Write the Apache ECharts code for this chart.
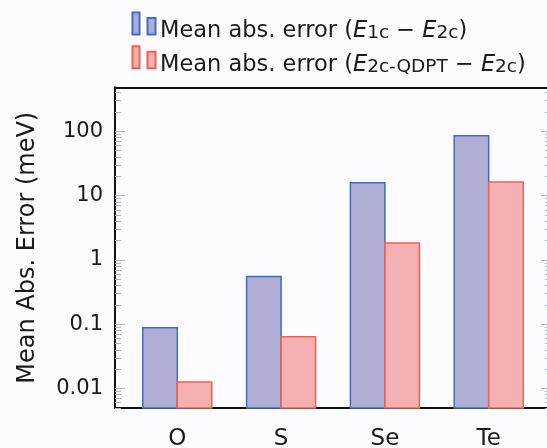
<!DOCTYPE html>
<html><head><meta charset="utf-8">
<script src="https://cdn.jsdelivr.net/npm/echarts@6/dist/echarts.min.js"></script>
<style>html,body{margin:0;padding:0;background:#fcfcfe}#c{width:547px;height:448px}</style>
</head><body><div id="c"></div>
<script>
const categories = ['O', 'S', 'Se', 'Te'];
const mae1c = [0.088, 0.55, 15.9, 85];
const maeQdpt = [0.0126, 0.064, 1.83, 16.3];
const yTickValues = [0.01, 0.1, 1, 10, 100];
const yTickLabels = ['0.01', '0.1', '1', '10', '100'];
const seriesNames = ['Mean abs. error (E1c − E2c)', 'Mean abs. error (E2c-QDPT − E2c)'];

const yMin = 0.00497, yMax = 480;
const minorTicks = [];
for (let k = -3; k <= 2; k++) for (let m = 2; m <= 9; m++) { const v = m * Math.pow(10, k); if (v > yMin && v < yMax) minorTicks.push(v); }

const FONT = 'DejaVu Sans';
const tickColor = '#a9b7c6';
function yAxisBase(pos, ticks, len, labels) {
  return {
    type: 'log', logBase: 10, min: yMin, max: yMax, position: pos,
    axisLine: { show: true, onZero: false, lineStyle: { color: '#111', width: 2 } },
    axisTick: { show: true, inside: true, length: len, customValues: ticks, lineStyle: { color: tickColor, width: 1 } },
    axisLabel: labels ? { show: true, customValues: yTickValues, margin: 12, fontSize: 21, fontFamily: FONT, color: '#1a1a1a',
      formatter: v => { const i = yTickValues.findIndex(t => Math.abs(Math.log10(t) - Math.log10(v)) < 1e-6); return i >= 0 ? yTickLabels[i] : ''; } } : { show: false },
    splitLine: { show: false }, minorTick: { show: false }
  };
}
const yAxes = [
  Object.assign(yAxisBase('left', yTickValues, 10, true), { name: 'Mean Abs. Error (meV)', nameLocation: 'middle', nameGap: 75,
    nameTextStyle: { fontSize: 24, fontFamily: FONT, color: '#1a1a1a' } }),
  yAxisBase('left', minorTicks, 6, false),
  yAxisBase('right', yTickValues, 10, false),
  yAxisBase('right', minorTicks, 6, false)
];
function xAxisBase(pos, labels) {
  return {
    type: 'value', min: -0.6, max: 3.6, position: pos,
    axisLine: { show: true, onZero: false, lineStyle: { color: '#111', width: 2 } },
    axisTick: { show: false }, splitLine: { show: false },
    axisLabel: labels ? { show: true, customValues: [0, 1, 2, 3], margin: 20, fontSize: 23, fontFamily: FONT, color: '#1a1a1a',
      formatter: v => categories[Math.round(v)] || '' } : { show: false }
  };
}
const rich = {
  a: { fontSize: 22.5, fontFamily: FONT, fill: '#1a1a1a', lineHeight: 24 },
  e: { fontSize: 22.5, fontFamily: FONT, fontStyle: 'italic', fill: '#1a1a1a', lineHeight: 24 },
  s: { fontSize: 18.5, fontFamily: FONT, fill: '#1a1a1a', lineHeight: 16, verticalAlign: 'bottom' }
};
const legendRich = [
  '{a|Mean abs. error (}{e|E}{s|1c}{a| − }{e|E}{s|2c}{a|)}',
  '{a|Mean abs. error (}{e|E}{s|2c-QDPT}{a| − }{e|E}{s|2c}{a|)}'
];

const BAR_W = 34.5;
function barSeries(idx, values, fill, stroke) {
  return {
    name: seriesNames[idx], type: 'custom', xAxisIndex: 0, yAxisIndex: 0,
    itemStyle: { color: fill, borderColor: stroke, borderWidth: 1.5 },
    encode: { x: 0, y: 1 },
    data: values.map((v, i) => [i, v]),
    renderItem: (params, api) => {
      const top = api.coord([api.value(0), api.value(1)]);
      const base = api.coord([api.value(0), yMin]);
      const x0 = idx === 0 ? top[0] - BAR_W : top[0];
      return { type: 'rect', shape: { x: x0, y: top[1], width: BAR_W, height: base[1] - top[1] },
        style: { fill: fill, stroke: stroke, lineWidth: 1.5 } };
    }
  };
}
function legendFor(idx, top) {
  return {
    data: [seriesNames[idx]], orient: 'vertical', left: 131.5, top: top, padding: 0,
    itemWidth: 23, itemHeight: 22, icon: 'path://M0,0h7v22h-7zM15,5.5h8v16.5h-8z',
    formatter: () => '', textStyle: { fontSize: 1 }
  };
}

const chart = echarts.init(document.getElementById('c'), null, { renderer: 'canvas' });
chart.setOption({
  backgroundColor: '#fcfcfe',
  animation: false,
  grid: { left: 115, top: 87.5, width: 436, height: 320.5, containLabel: false, outerBoundsMode: 'none' },
  legend: [legendFor(0, 11.5), legendFor(1, 45.3)],
  graphic: [
    { type: 'text', left: 160, top: 19.5, style: { text: legendRich[0], rich: rich } },
    { type: 'text', left: 160, top: 53.5, style: { text: legendRich[1], rich: rich } }
  ],
  xAxis: [xAxisBase('bottom', true), xAxisBase('top', false)],
  yAxis: yAxes,
  series: [
    barSeries(0, mae1c, '#b1aed6', '#3d6cc9'),
    barSeries(1, maeQdpt, '#f5b0b3', '#f0604f')
  ]
});
</script></body></html>
